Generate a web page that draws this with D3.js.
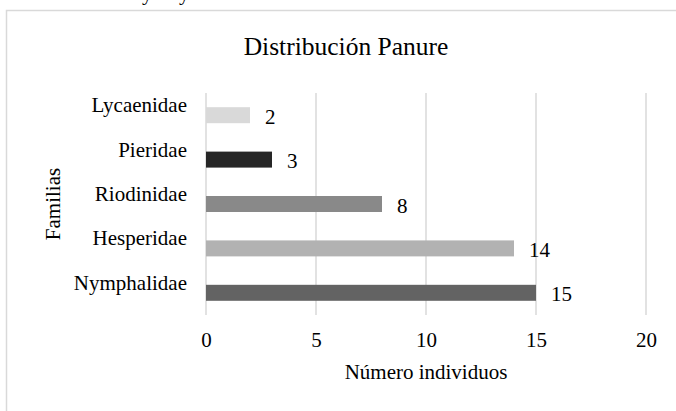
<!DOCTYPE html>
<html>
<head>
<meta charset="utf-8">
<script src="https://cdn.jsdelivr.net/npm/d3@7"></script>
<style>
  html, body { margin: 0; padding: 0; background: #fff; overflow: hidden; }
  svg text { font-family: "Liberation Serif", "Times New Roman", serif; fill: #000; }
</style>
</head>
<body>
<svg id="chart" width="676" height="411"></svg>
<script>
// data, top to bottom
const familias = ['Lycaenidae', 'Pieridae', 'Riodinidae', 'Hesperidae', 'Nymphalidae'];
const individuos = [2, 3, 8, 14, 15];
const barColors = ['#d9d9d9', '#262626', '#898989', '#b2b2b2', '#636363'];
const xTicks = [0, 5, 10, 15, 20];

const svg = d3.select('#chart');

// cropped line of document text above the chart frame
svg.selectAll('text.frag')
  .data([142, 179])
  .enter().append('text')
  .attr('class', 'frag')
  .attr('x', d => d)
  .attr('y', -0.5)
  .style('font-size', '21px')
  .text('y');

// chart frame (only top and left edges fall inside the window)
svg.append('rect')
  .attr('x', 6.5).attr('y', 10.5)
  .attr('width', 700).attr('height', 440)
  .attr('fill', 'none')
  .attr('stroke', '#d9d9d9')
  .attr('stroke-width', 1.5);

let margin = {top: 93, left: 206, right: 646, bottom: 315};

let x = d3.scaleLinear()
  .domain([0, 20])
  .range([margin.left, margin.right]);

let y = d3.scaleBand()
  .domain(familias)
  .range([margin.top, margin.bottom])
  .paddingInner(0.64)
  .paddingOuter(0.32);

// vertical gridlines
svg.append('g')
  .selectAll('line')
  .data(xTicks)
  .enter().append('line')
  .attr('x1', d => x(d)).attr('x2', d => x(d))
  .attr('y1', margin.top).attr('y2', margin.bottom)
  .attr('stroke', '#d9d9d9')
  .attr('stroke-width', 1.5);

// bars
svg.append('g')
  .selectAll('rect')
  .data(familias)
  .enter().append('rect')
  .attr('x', x(0))
  .attr('y', d => y(d))
  .attr('width', (d, i) => x(individuos[i]) - x(0))
  .attr('height', y.bandwidth())
  .attr('fill', (d, i) => barColors[i]);

// value labels
svg.append('g')
  .selectAll('text')
  .data(familias)
  .enter().append('text')
  .attr('x', (d, i) => x(individuos[i]) + 15)
  .attr('y', d => y(d) + y.bandwidth() / 2 + 8.5)
  .style('font-size', '21px')
  .text((d, i) => individuos[i]);

// category labels (sit a little above the bar centre, as in the original)
svg.append('g')
  .selectAll('text')
  .data(familias)
  .enter().append('text')
  .attr('x', 187)
  .attr('y', d => y(d) + y.bandwidth() / 2 - 3)
  .attr('text-anchor', 'end')
  .style('font-size', '21px')
  .text(d => d);

// x axis tick labels
let xAxis = svg.append('g')
  .attr('transform', 'translate(0,' + margin.bottom + ')')
  .call(d3.axisBottom(x).tickValues(xTicks).tickSize(0).tickPadding(17));
xAxis.select('.domain').remove();
xAxis.selectAll('text')
  .style('font-size', '21px')
  .style('font-family', '"Liberation Serif", "Times New Roman", serif')
  .attr('fill', '#000');

// title
svg.append('text')
  .attr('x', 346)
  .attr('y', 54.5)
  .attr('text-anchor', 'middle')
  .style('font-size', '25.5px')
  .text('Distribución Panure');

// axis titles
svg.append('text')
  .attr('x', (margin.left + margin.right) / 2)
  .attr('y', 379)
  .attr('text-anchor', 'middle')
  .style('font-size', '21px')
  .text('Número individuos');

svg.append('text')
  .attr('transform', 'translate(60,' + ((margin.top + margin.bottom) / 2) + ') rotate(-90)')
  .attr('text-anchor', 'middle')
  .style('font-size', '21px')
  .text('Familias');
</script>
</body>
</html>
